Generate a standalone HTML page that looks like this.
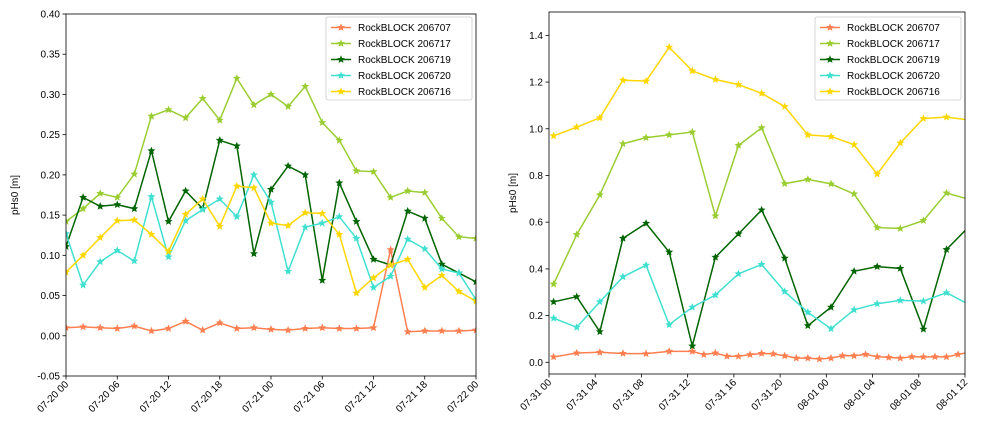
<!DOCTYPE html>
<html><head><meta charset="utf-8"><style>
html,body{margin:0;padding:0;background:#fff;}
svg{display:block;font-family:"Liberation Sans","DejaVu Sans",sans-serif;}
</style></head><body>
<svg id="s" width="994" height="433" viewBox="0 0 994 433"></svg>
<script>
// ---- Left chart data (hours since 07-20 00) ----
const leftTimes = [0,2,4,6,8,10,12,14,16,18,20,22,24,26,28,30,32,34,36,38,40,42,44,46,48];
const left206707 = [0.010,0.011,0.010,0.009,0.012,0.006,0.009,0.018,0.007,0.016,0.009,0.010,0.008,0.007,0.009,0.010,0.009,0.009,0.010,0.107,0.005,0.006,0.006,0.006,0.007];
const left206717 = [0.142,0.158,0.177,0.172,0.201,0.273,0.281,0.271,0.295,0.268,0.320,0.287,0.300,0.285,0.310,0.265,0.243,0.205,0.204,0.172,0.180,0.178,0.146,0.123,0.121];
const left206719 = [0.111,0.172,0.161,0.163,0.158,0.230,0.142,0.180,0.158,0.243,0.236,0.102,0.182,0.211,0.200,0.069,0.190,0.142,0.095,0.088,0.155,0.146,0.089,0.078,0.067];
const left206720 = [0.127,0.063,0.092,0.106,0.093,0.173,0.098,0.143,0.157,0.170,0.148,0.200,0.166,0.080,0.135,0.140,0.148,0.121,0.060,0.074,0.120,0.108,0.083,0.078,0.045];
const left206716 = [0.079,0.100,0.122,0.143,0.144,0.126,0.105,0.151,0.170,0.136,0.186,0.184,0.140,0.137,0.153,0.152,0.126,0.053,0.072,0.088,0.095,0.060,0.075,0.055,0.043];
const leftYTicks = [-0.05,0.00,0.05,0.10,0.15,0.20,0.25,0.30,0.35,0.40];
const leftXTickHours = [0,6,12,18,24,30,36,42,48];
const leftXTickLabels = ["07-20 00","07-20 06","07-20 12","07-20 18","07-21 00","07-21 06","07-21 12","07-21 18","07-22 00"];
// ---- Right chart data (hours since 07-31 00) ----
const rightTimes = [0.4,2.4,4.4,6.4,8.4,10.4,12.4,14.4,16.4,18.4,20.4,22.4,24.4,26.4,28.4,30.4,32.4,34.4,36.4];
const rightTimes707 = [0.4,2.4,4.4,6.4,8.4,10.4,12.4,13.4,14.4,15.4,16.4,17.4,18.4,19.4,20.4,21.4,22.4,23.4,24.4,25.4,26.4,27.4,28.4,29.4,30.4,31.4,32.4,33.4,34.4,35.4,36.4];
const right206707 = [0.023,0.040,0.043,0.038,0.037,0.047,0.047,0.033,0.040,0.026,0.026,0.033,0.038,0.036,0.028,0.018,0.018,0.014,0.018,0.028,0.028,0.034,0.024,0.021,0.018,0.024,0.023,0.024,0.023,0.034,0.043];
const right206717 = [0.335,0.547,0.717,0.936,0.962,0.974,0.986,0.627,0.929,1.004,0.765,0.783,0.764,0.721,0.577,0.573,0.607,0.725,0.697];
const right206719 = [0.259,0.281,0.131,0.531,0.595,0.472,0.070,0.450,0.550,0.652,0.446,0.157,0.236,0.390,0.410,0.402,0.142,0.483,0.584];
const right206720 = [0.189,0.150,0.259,0.366,0.416,0.161,0.236,0.288,0.379,0.419,0.303,0.214,0.144,0.225,0.251,0.265,0.262,0.298,0.246];
const right206716 = [0.970,1.007,1.047,1.208,1.204,1.349,1.248,1.211,1.189,1.152,1.095,0.974,0.967,0.932,0.806,0.939,1.044,1.050,1.037];
const rightYTicks = [0.0,0.2,0.4,0.6,0.8,1.0,1.2,1.4];
const rightXTickHours = [0,4,8,12,16,20,24,28,32,36];
const rightXTickLabels = ["07-31 00","07-31 04","07-31 08","07-31 12","07-31 16","07-31 20","08-01 00","08-01 04","08-01 08","08-01 12"];
const seriesNames = ["RockBLOCK 206707","RockBLOCK 206717","RockBLOCK 206719","RockBLOCK 206720","RockBLOCK 206716"];
const seriesColors = ["#ff7f50","#9acd32","#006400","#40e0d0","#ffd700"];

const NS="http://www.w3.org/2000/svg";
const svg=document.getElementById('s');
function mk(tag,attrs,parent){const e=document.createElementNS(NS,tag);for(const k in attrs)e.setAttribute(k,attrs[k]);(parent||svg).appendChild(e);return e;}
function star(cx,cy,r){let p=[];for(let i=0;i<10;i++){const a=-Math.PI/2+i*Math.PI/5;const rr=i%2?r*0.45:r;p.push((cx+rr*Math.cos(a)).toFixed(1)+','+(cy+rr*Math.sin(a)).toFixed(1));}return p.join(' ');}

function chart(o){
  const g=mk('g',{});
  
  
  const X=t=>o.x0+(t-o.t0)/(o.t1-o.t0)*(o.x1-o.x0);
  const Y=v=>o.y1-(v-o.v0)/(o.v1-o.v0)*(o.y1-o.y0);
  const cid='clip'+o.name;
  const cp=mk('clipPath',{id:cid},g);mk('rect',{x:o.x0,y:o.y0,width:o.x1-o.x0,height:o.y1-o.y0},cp);
  const plot=mk('g',{'clip-path':'url(#'+cid+')'},g);
  
  
  o.series.forEach((s,i)=>{
    const sg=mk('g',{},plot);
    
    
    const pts=s.v.map((v,j)=>X(s.t[j]).toFixed(2)+','+Y(v).toFixed(2)).join(' ');
    mk('polyline',{points:pts,fill:'none',stroke:seriesColors[i],'stroke-width':1.5},sg);
    s.v.forEach((v,j)=>{const m=mk('polygon',{points:star(X(s.t[j]),Y(v),4.2),fill:seriesColors[i]},sg);
      
      });
  });
  mk('rect',{x:o.x0,y:o.y0,width:o.x1-o.x0,height:o.y1-o.y0,fill:'none',stroke:'#000','stroke-width':0.8},g);
  o.yt.forEach(v=>{const y=Y(v);mk('line',{x1:o.x0-3.5,x2:o.x0,y1:y,y2:y,stroke:'#000','stroke-width':0.8},g);
    const t=mk('text',{x:o.x0-6,y:y+3.5,'text-anchor':'end','font-size':10},g);t.textContent=v.toFixed(o.yd);
    
    });
  o.xt.forEach((h,i)=>{const x=X(h);mk('line',{x1:x,x2:x,y1:o.y1,y2:o.y1+3.5,stroke:'#000','stroke-width':0.8},g);
    const t=mk('text',{x:x+3,y:o.y1+9,'text-anchor':'end','font-size':10,transform:'rotate(-45 '+(x+3)+' '+(o.y1+9)+')'},g);t.textContent=o.xl[i];
    
    });
  const yl=mk('text',{x:o.ylx,y:(o.y0+o.y1)/2,'text-anchor':'middle','font-size':10,transform:'rotate(-90 '+o.ylx+' '+((o.y0+o.y1)/2)+')'},g);yl.textContent='pHs0 [m]';
  
  
  const lg=mk('g',{},g);
  
  
  mk('rect',{x:o.lx,y:17,width:146,height:83,rx:2,fill:'#fff','fill-opacity':0.8,stroke:'#ccc','stroke-width':0.8},lg);
  seriesNames.forEach((n,i)=>{const y=27.5+i*16;
    const e=mk('g',{},lg);
    
    
    mk('line',{x1:o.lx+5,x2:o.lx+25,y1:y,y2:y,stroke:seriesColors[i],'stroke-width':1.5},e);
    mk('polygon',{points:star(o.lx+15,y,4.2),fill:seriesColors[i]},e);
    const t=mk('text',{x:o.lx+32,y:y+3.5,'font-size':10},e);t.textContent=n;});
}
chart({name:'left-chart',x0:66,x1:476,y0:14,y1:376,t0:0,t1:48,v0:-0.05,v1:0.40,yd:2,ylx:18,lx:326,
  yt:leftYTicks,xt:leftXTickHours,xl:leftXTickLabels,
  series:[{t:leftTimes,v:left206707},{t:leftTimes,v:left206717},{t:leftTimes,v:left206719},{t:leftTimes,v:left206720},{t:leftTimes,v:left206716}]});
chart({name:'right-chart',x0:549,x1:965,y0:12,y1:374,t0:0,t1:36,v0:-0.05,v1:1.5,yd:1,ylx:516,lx:815,
  yt:rightYTicks,xt:rightXTickHours,xl:rightXTickLabels,
  series:[{t:rightTimes707,v:right206707},{t:rightTimes,v:right206717},{t:rightTimes,v:right206719},{t:rightTimes,v:right206720},{t:rightTimes,v:right206716}]});
</script>
</body></html>
